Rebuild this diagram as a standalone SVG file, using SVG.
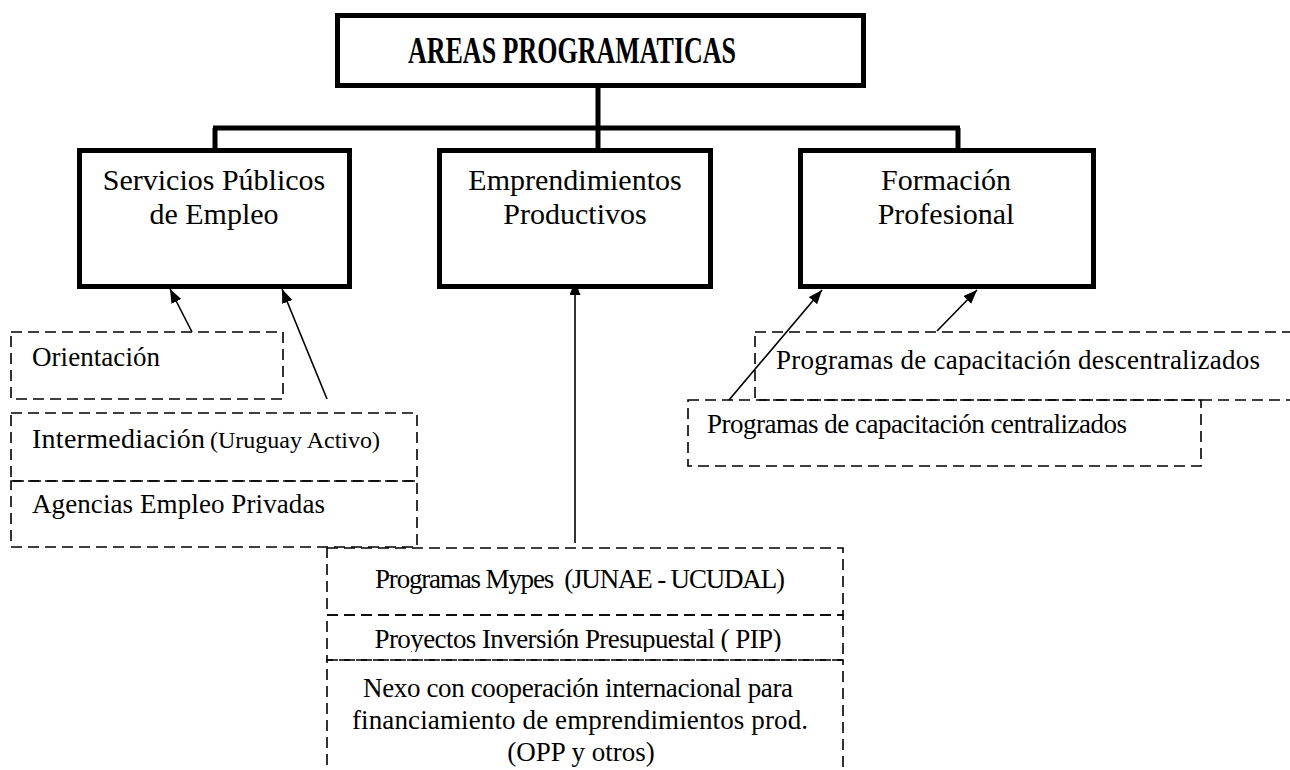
<svg xmlns="http://www.w3.org/2000/svg" width="1290" height="770" viewBox="0 0 1290 770">
<style>
.main{fill:#fff;stroke:#000;stroke-width:5}
.dash{fill:none;stroke:#000;stroke-width:1.6;stroke-dasharray:11 6}
.bus{fill:none;stroke:#000;stroke-width:5}
.arr{fill:none;stroke:#000;stroke-width:1.6;marker-end:url(#ah)}
.t1{font-family:"Liberation Serif",serif;font-size:30px;fill:#000;text-anchor:middle}
.t2{font-family:"Liberation Serif",serif;font-size:27px;fill:#000}
.t3{font-family:"Liberation Serif",serif;font-size:27px;fill:#000;text-anchor:middle}
.tt{font-family:"Liberation Serif",serif;font-size:37px;font-weight:bold;fill:#000;text-anchor:middle}
</style>
<defs>
<marker id="ah" markerUnits="userSpaceOnUse" markerWidth="15" markerHeight="12" refX="14" refY="5.5" orient="auto">
<path d="M0,0 L14,5.5 L0,11 z" fill="#000"/>
</marker>
<clipPath id="pipclip"><rect x="327" y="615" width="516" height="37"/></clipPath>
</defs>
<rect width="1290" height="770" fill="#fff"/>

<g id="connectors">
<line class="bus" x1="213" y1="128" x2="960" y2="128"/>
<line class="bus" x1="215" y1="128" x2="215" y2="150"/>
<line class="bus" x1="598" y1="86" x2="598" y2="150"/>
<line class="bus" x1="958" y1="128" x2="958" y2="150"/>
<line class="arr" x1="192" y1="332" x2="170" y2="289"/>
<line class="arr" x1="327" y1="399" x2="282" y2="289"/>
<line class="arr" x1="575" y1="543" x2="575" y2="281"/>
<line class="arr" x1="729" y1="400" x2="822" y2="290"/>
<line class="arr" x1="937" y1="331" x2="977" y2="290"/>
</g>

<g id="areas">
<rect class="main" x="337.5" y="15.5" width="526" height="70"/>
<text class="tt" x="572" y="63" textLength="328" lengthAdjust="spacingAndGlyphs">AREAS PROGRAMATICAS</text>
</g>

<g id="servicios">
<rect class="main" x="79.5" y="150.5" width="270" height="136"/>
<text class="t1" x="214" y="190">Servicios Públicos</text>
<text class="t1" x="214" y="224">de Empleo</text>
</g>

<g id="emprendimientos">
<rect class="main" x="439.5" y="150.5" width="271" height="136"/>
<text class="t1" x="575" y="190">Emprendimientos</text>
<text class="t1" x="575" y="224">Productivos</text>
</g>

<g id="formacion">
<rect class="main" x="800.5" y="150.5" width="293" height="136"/>
<text class="t1" x="946" y="190">Formación</text>
<text class="t1" x="946" y="224">Profesional</text>
</g>

<g id="orientacion">
<rect class="dash" x="11" y="332" width="272" height="67"/>
<text class="t2" x="32" y="366" textLength="128">Orientación</text>
</g>

<g id="intermediacion">
<rect class="dash" x="11" y="413" width="406" height="68"/>
<text class="t2" x="32" y="448"><tspan font-size="28px" textLength="173">Intermediación</tspan><tspan font-size="24px" x="210">(Uruguay Activo)</tspan></text>
</g>

<g id="agencias">
<rect class="dash" x="11" y="481" width="406" height="66"/>
<text class="t2" x="32" y="513" textLength="293">Agencias Empleo Privadas</text>
</g>

<g id="descentralizados">
<rect class="dash" x="755" y="332" width="560" height="68"/>
<text class="t2" x="776" y="369" textLength="484">Programas de capacitación descentralizados</text>
</g>

<g id="centralizados">
<rect class="dash" x="688" y="400" width="513" height="66"/>
<text class="t2" x="707" y="433" textLength="420">Programas de capacitación centralizados</text>
</g>

<g id="mypes">
<rect class="dash" x="327" y="548" width="516" height="67"/>
<text class="t3" x="580" y="588" xml:space="preserve" textLength="410">Programas Mypes  (JUNAE - UCUDAL)</text>
</g>

<g id="pip">
<rect class="dash" x="327" y="615" width="516" height="45"/>
<text class="t3" x="578" y="648" clip-path="url(#pipclip)" textLength="407">Proyectos Inversión Presupuestal ( PIP)</text>
</g>

<g id="nexo">
<rect class="dash" x="327" y="660" width="516" height="140"/>
<text class="t3" x="578" y="697" textLength="430">Nexo con cooperación internacional para</text>
<text class="t3" x="580" y="729" textLength="456">financiamiento de emprendimientos prod.</text>
<text class="t3" x="581" y="761">(OPP y otros)</text>
</g>
</svg>
